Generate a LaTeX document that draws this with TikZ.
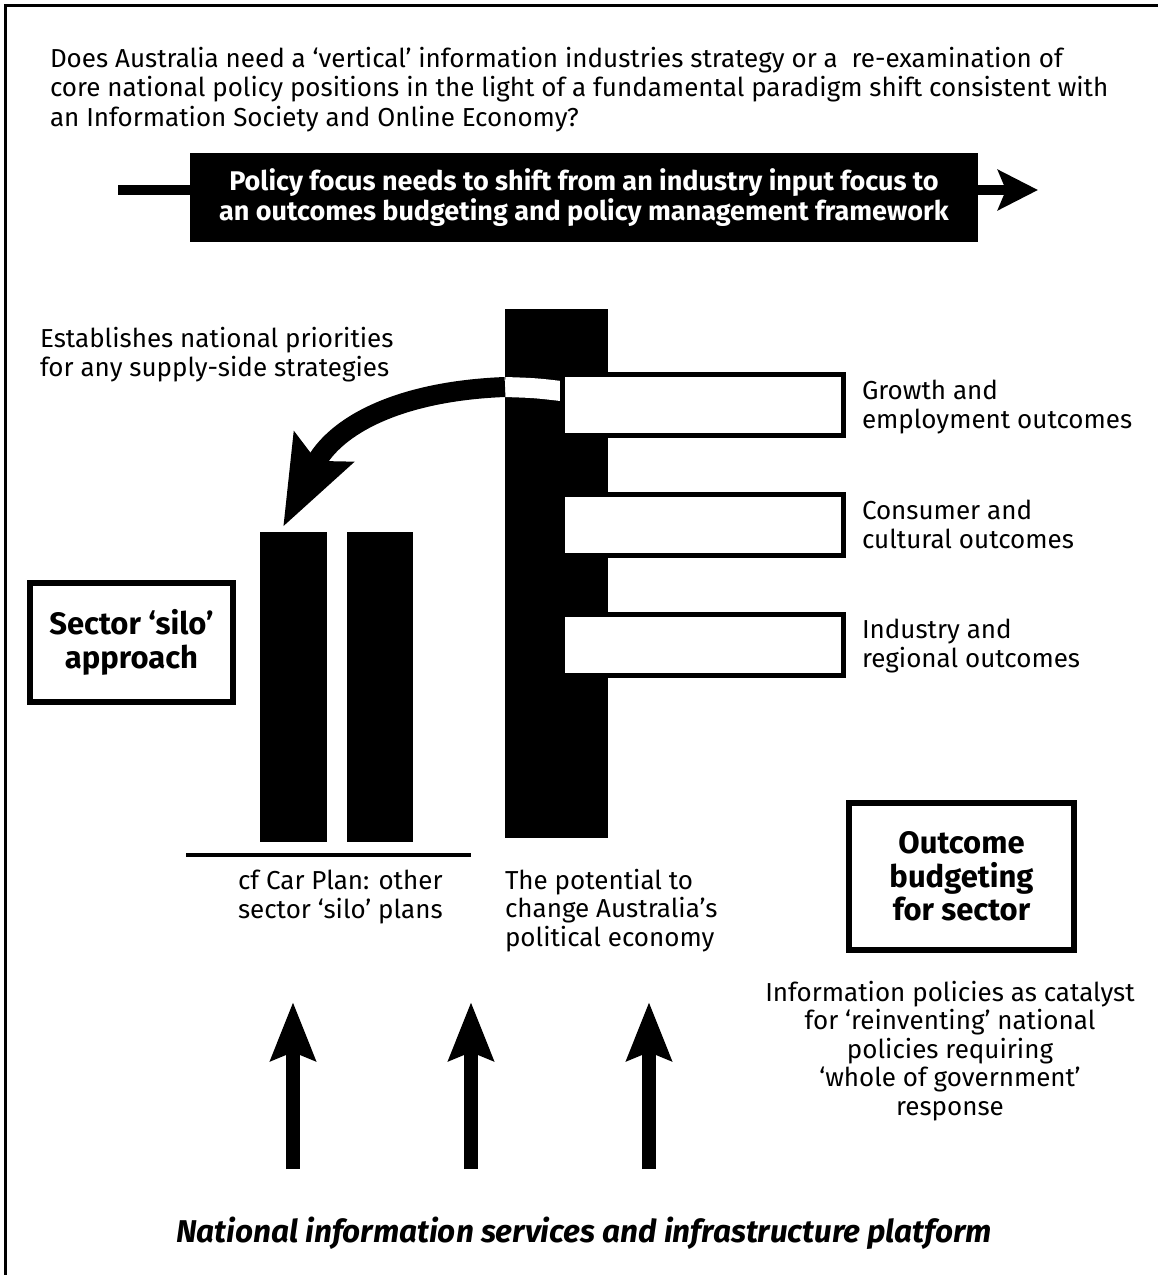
\documentclass[tikz,border=0pt]{standalone}
\usepackage{fontspec}
\setmainfont{Fira Sans}
\usetikzlibrary{arrows.meta}
\tikzset{
  txt/.style={inner sep=0, outer sep=0, align=left, font=\fontsize{26}{28.5}\selectfont},
  blackbar/.style={fill=black, inner sep=0, outer sep=0},
  outbox/.style={draw=black, fill=white, line width=5pt, inner sep=0, outer sep=0},
  labelbox/.style={draw=black, line width=5.5pt, inner sep=0, outer sep=0, align=center, font=\fontsize{31}{33.5}\selectfont\bfseries},
  uparrow/.style={line width=14pt, -{Stealth[length=58pt,width=44pt,inset=8pt]}},
}
\begin{document}
\begin{tikzpicture}[x=1pt,y=-1pt]
\useasboundingbox (0,0) rectangle (1158,1275);
% frame (top and left only)
\draw[line width=3.5pt] (5.5,1275) -- (5.5,5.5) -- (1158,5.5);

% question (base anchor = last line)
\node[txt, anchor=base west, font=\fontsize{26}{29.5}\selectfont] (question) at (50,126)
 {Does Australia need a ‘vertical’ information industries strategy or a\ \ re-examination of\\
  core national policy positions in the light of a fundamental paradigm shift consistent with\\
  an Information Society and Online Economy?};

% policy box with arrow
\node[fill=black, text=white, inner sep=0, outer sep=0, minimum width=788pt, minimum height=89pt,
      align=center, font=\fontsize{27}{29.5}\selectfont\bfseries] (policy) at (584,197.5)
 {Policy focus needs to shift from an industry input focus to\\
  an outcomes budgeting and policy management framework};
\coordinate (pl) at (118,190);
\coordinate (pr) at (1038,190);
\draw[line width=10pt] (pl) -- (pl -| policy.west);
\draw[line width=10pt, -{Stealth[length=40pt,width=40pt,inset=8pt]}] (pr -| policy.east) -- (pr);

% central bar
\node[blackbar, minimum width=103pt, minimum height=529pt, anchor=north west] (bar) at (505,309) {};

% white band crossing the bar
\coordinate (cs) at (505,387);
\coordinate (ce) at (283,527);
\draw[white, line width=20pt] (561,391) .. controls (535,388) .. (cs);
% curved arrow
\draw[line width=20pt, -{Stealth[length=88pt,width=64pt,inset=14pt]}] (cs) .. controls (400,391) and (335,425) .. (ce);

% outcome boxes
\node[outbox, minimum width=281pt, minimum height=61pt] (o1) at (703,405) {};
\node[outbox, minimum width=281pt, minimum height=61pt] (o2) at (703,525) {};
\node[outbox, minimum width=281pt, minimum height=61pt] (o3) at (703,645) {};

\node[txt, anchor=base west] (l1) at (862,428) {Growth and\\employment outcomes};
\node[txt, anchor=base west] (l2) at (862,548) {Consumer and\\cultural outcomes};
\node[txt, anchor=base west] (l3) at (862,667) {Industry and\\regional outcomes};

% establishes text
\node[txt, anchor=base west] (est) at (40,376) {Establishes national priorities\\for any supply-side strategies};

% silo bars
\node[blackbar, minimum width=67pt, minimum height=310pt] (s1) at (293.5,687) {};
\node[blackbar, minimum width=66pt, minimum height=310pt] (s2) at (380,687) {};
\coordinate (bl) at (186,854.5);
\coordinate (br) at (471,854.5);
\draw[line width=4pt] (bl) -- (br);

% sector silo box
\node[labelbox, minimum width=203pt, minimum height=119pt] (silo) at (131.5,642.5) {Sector ‘silo’\\approach};

% outcome budgeting box
\node[labelbox, minimum width=225pt, minimum height=147pt] (ob) at (961.5,876.5) {Outcome\\budgeting\\for sector};

% lower texts
\node[txt, anchor=base west] (car) at (238,918) {cf Car Plan: other\\sector ‘silo’ plans};
\node[txt, anchor=base west] (pot) at (505,946) {The potential to\\change Australia’s\\political economy};
\node[txt, align=center, anchor=base] (info) at (950,1115)
 {Information policies as catalyst\\for ‘reinventing’ national\\policies requiring\\‘whole of government’\\response};

% up arrows
\coordinate (a1b) at (293,1169); \coordinate (a1t) at (293,1002);
\coordinate (a2b) at (471,1169); \coordinate (a2t) at (471,1002);
\coordinate (a3b) at (649,1169); \coordinate (a3t) at (649,1002);
\draw[uparrow] (a1b) -- (a1t);
\draw[uparrow] (a2b) -- (a2t);
\draw[uparrow] (a3b) -- (a3t);

% platform text
\node[inner sep=0, anchor=base, font=\fontsize{31.5}{34}\selectfont\bfseries\itshape] (plat) at (584,1242)
 {National information services and infrastructure platform};
\end{tikzpicture}
\end{document}
